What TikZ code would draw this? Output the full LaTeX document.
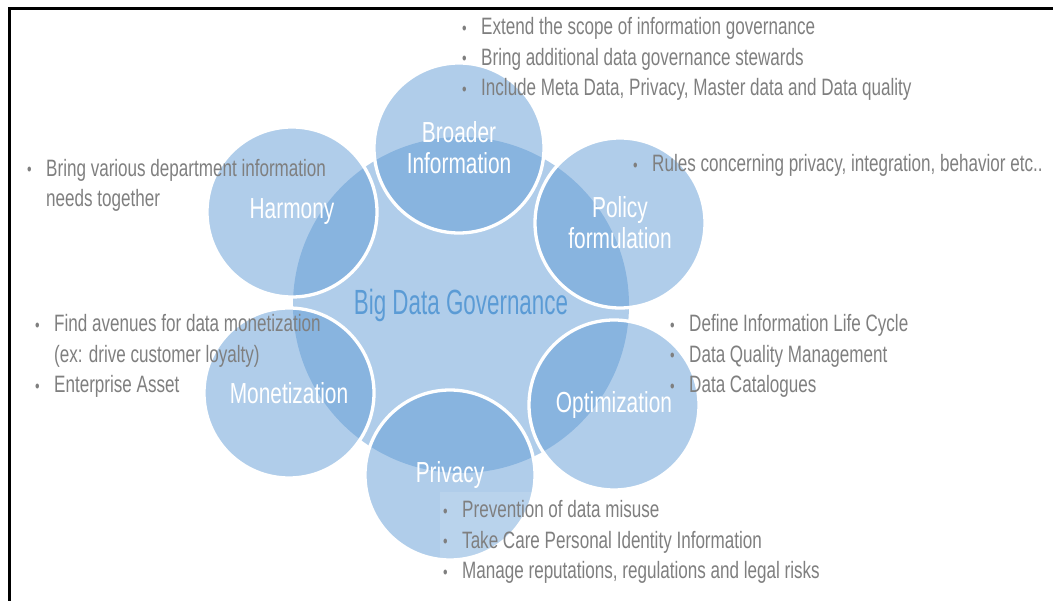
\documentclass[tikz,border=0pt]{standalone}
\usepackage{fontspec}
\usepackage{tikz}
\newfontfamily\condfont[FakeStretch=0.72]{Liberation Sans}
\newfontfamily\titlefont[FakeStretch=0.64]{Liberation Sans}

\definecolor{bubblue}{RGB}{97,155,213}
\definecolor{headblue}{RGB}{91,155,213}
\definecolor{notegray}{RGB}{127,127,127}

\newcommand{\notefont}{\condfont\fontsize{23.7}{30.7}\selectfont}
\newcommand{\labelfont}{\condfont\fontsize{29}{31}\selectfont}
\newcommand{\bul}{\makebox[19pt][l]{\raisebox{0.5pt}{\fontsize{18}{18}\selectfont\textbullet}}}
\newcommand{\nobul}{\makebox[19pt]{}}

\begin{document}
\begin{tikzpicture}[x=1pt, y=-1pt,
	bubble/.style={circle, minimum size=170pt, inner sep=0pt, fill=bubblue, fill opacity=0.5, text opacity=1, draw=white, line width=3.3pt, text=white, font=\labelfont, align=center},
	notes/.style={anchor=base west, inner sep=0pt, text=notegray, font=\notefont, align=left}]
		\useasboundingbox (0,0) rectangle (1053,601);
		\draw[line width=3pt] (9,601) -- (9,9) -- (1053,9);
		% hub and the six bubbles
		\node[circle, minimum size=336pt, fill=bubblue, fill opacity=0.5, text opacity=1, text=headblue, font={\titlefont\fontsize{35}{35}\selectfont}] (core) at (461,305) {Big Data Governance};
		\node[bubble] (broad) at (459,148) {Broader\\Information};
		\node[bubble] (policy) at (620,223) {Policy\\formulation};
		\node[bubble] (optim) at (614,405) {Optimization};
		\node[bubble] (privacy) at (450,475) {Privacy};
		\node[bubble] (money) at (289,393) {Monetization};
		\node[bubble] (harmony) at (292,212) {Harmony};
		\fill[white, opacity=0.12] (440,492) rectangle (830,601);
		% bullet notes (base = last line)
		\node[notes] (broadnotes) at (462,96) {\bul Extend the scope of information governance\\\bul Bring additional data governance stewards\\\bul Include Meta Data, Privacy, Master data and Data quality};
		\node[notes] (policynotes) at (633,172) {\bul Rules concerning privacy, integration, behavior etc..};
		\node[notes] (harmnotes) at (27,207) {\bul Bring various department information\\\nobul needs together};
		\node[notes] (moneynotes) at (35,393) {\bul Find avenues for data monetization\\\nobul (ex: drive customer loyalty)\\\bul Enterprise Asset};
		\node[notes] (optimnotes) at (670,393) {\bul Define Information Life Cycle\\\bul Data Quality Management\\\bul Data Catalogues};
		\node[notes] (privnotes) at (443,579) {\bul Prevention of data misuse\\\bul Take Care Personal Identity Information\\\bul Manage reputations, regulations and legal risks};
	\end{tikzpicture}
\end{document}
